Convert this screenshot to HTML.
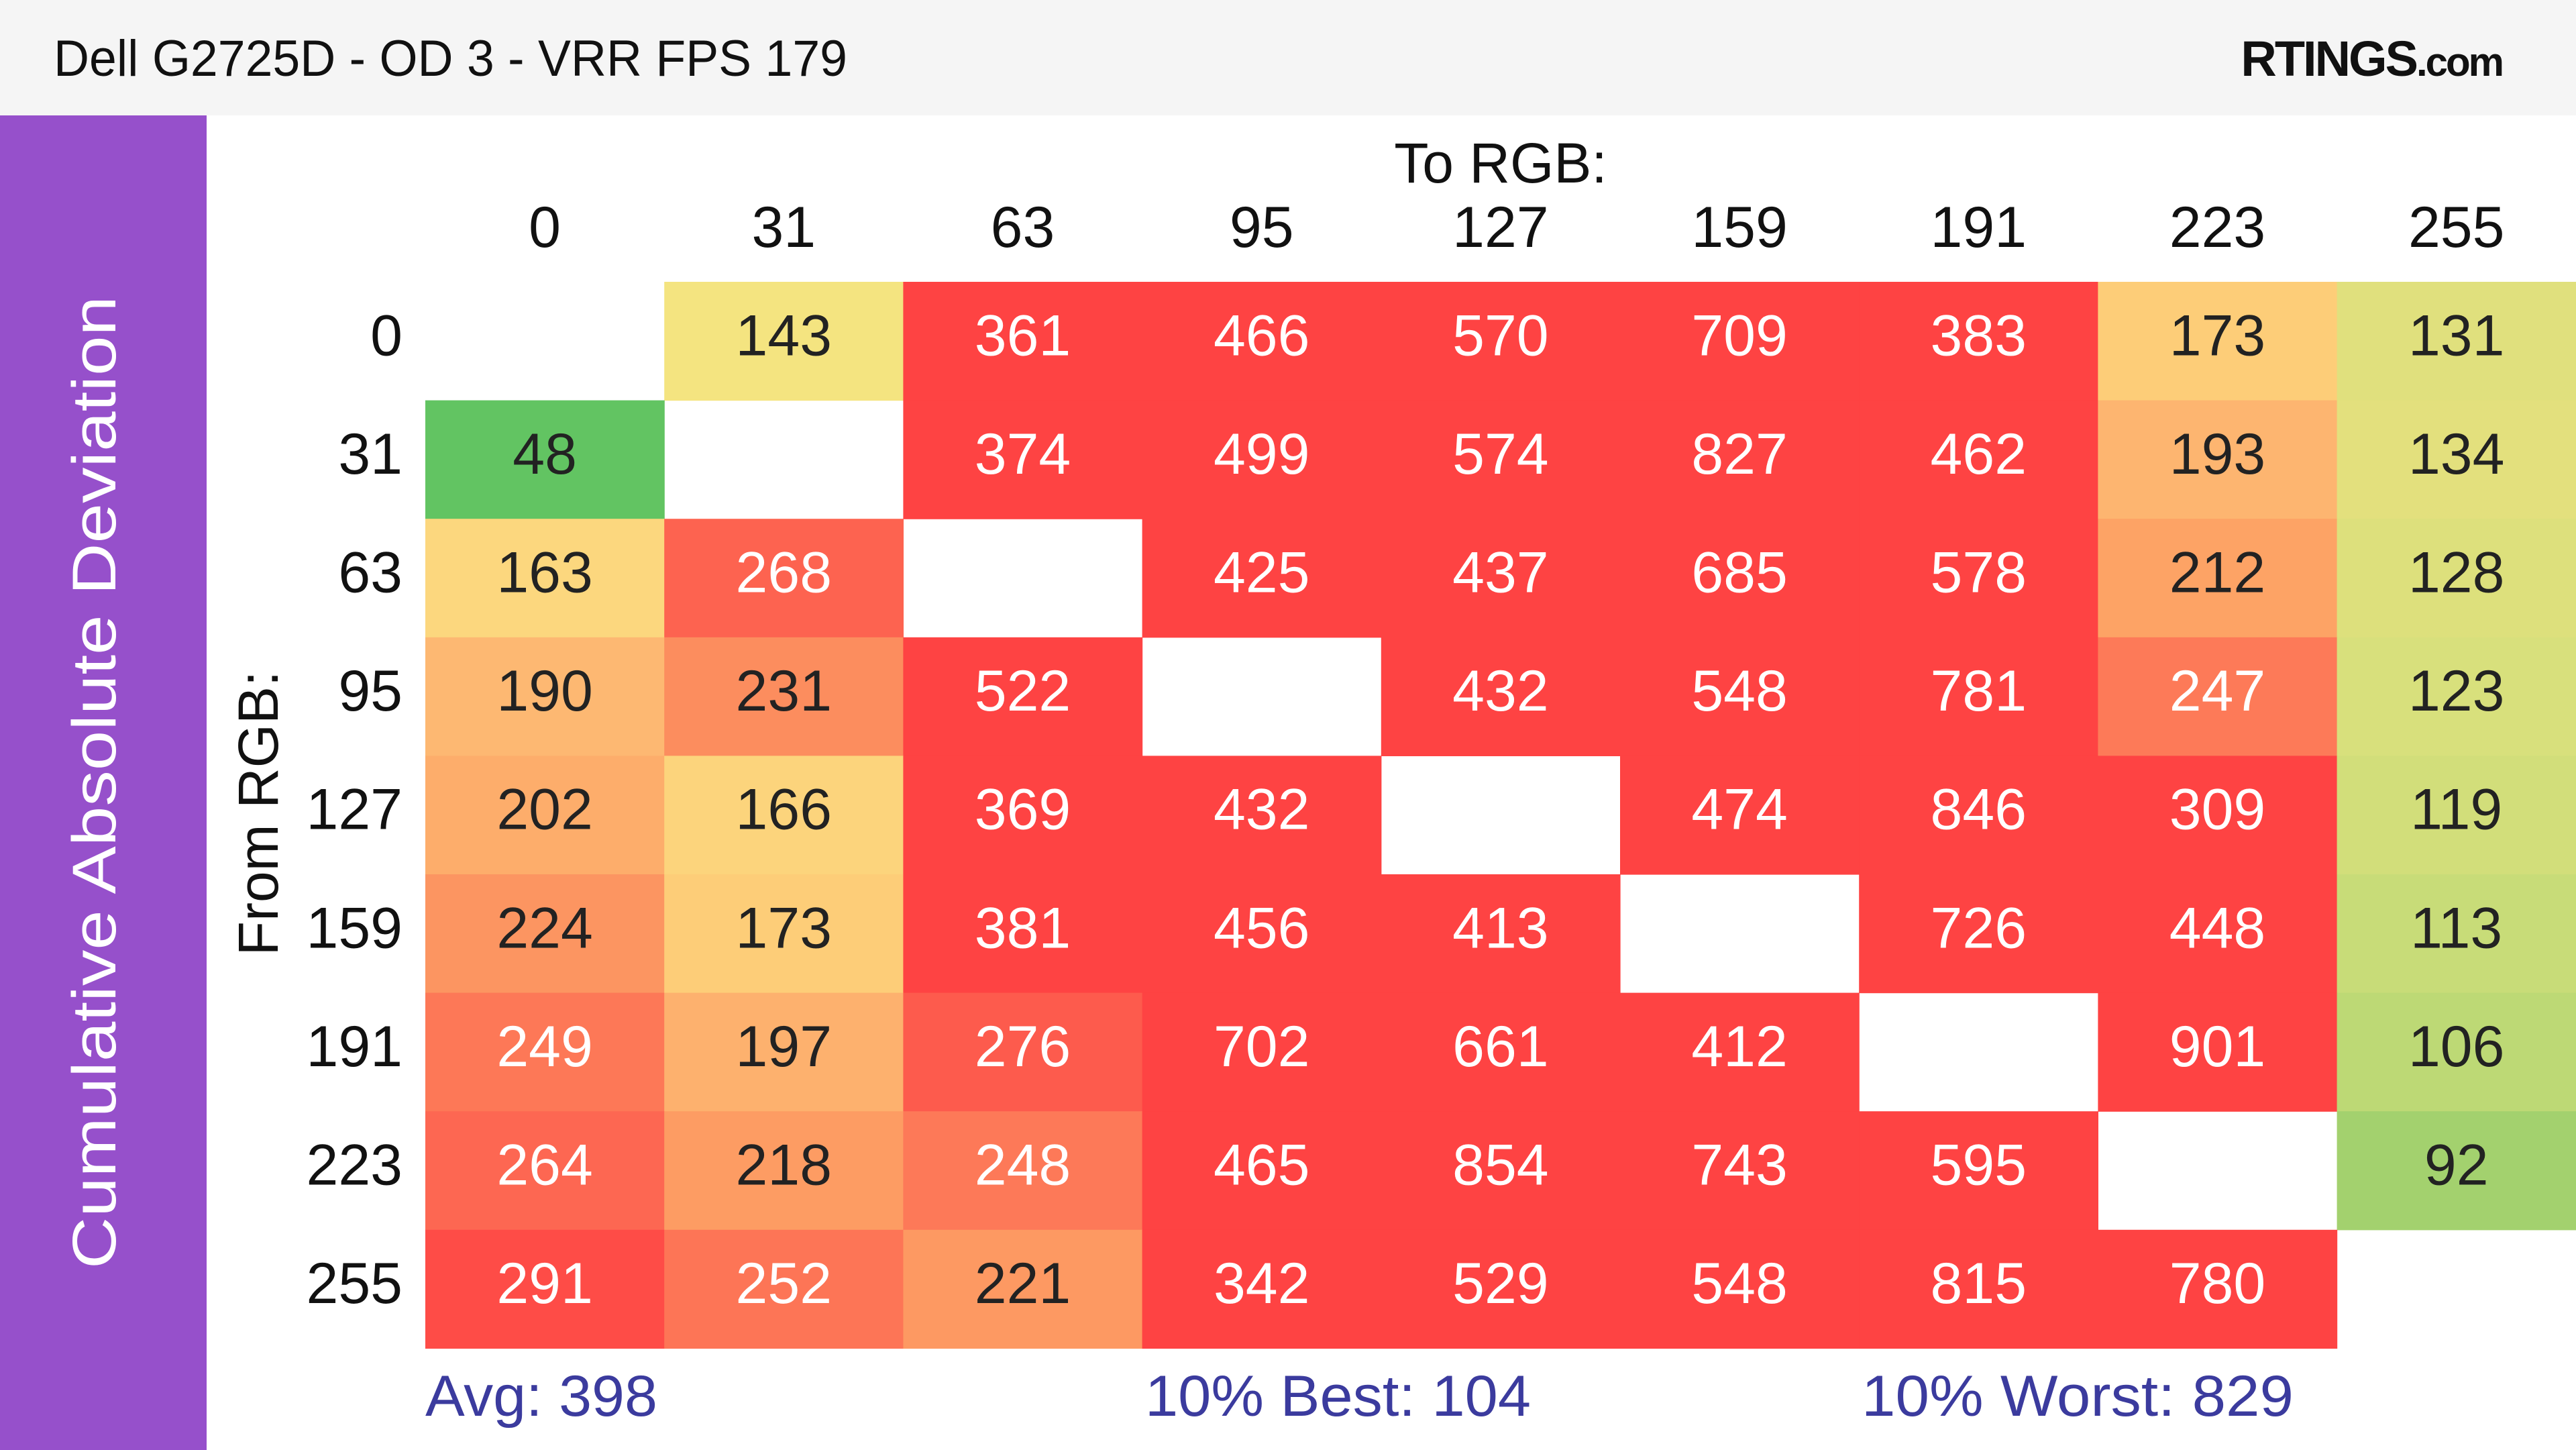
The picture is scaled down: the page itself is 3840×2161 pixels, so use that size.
<!DOCTYPE html>
<html><head><meta charset="utf-8"><style>
html,body{margin:0;padding:0;width:3840px;height:2161px;overflow:hidden;background:#fff;font-family:"Liberation Sans",sans-serif;}
</style></head><body>
<svg id="chart" xmlns="http://www.w3.org/2000/svg" width="3840" height="2161" viewBox="0 0 3840 2161" font-family="Liberation Sans, sans-serif">
<rect x="0" y="0" width="3840" height="172" fill="#f5f5f5"/>
<text x="80" y="113" font-size="76" fill="#111" textLength="1183" lengthAdjust="spacingAndGlyphs">Dell G2725D - OD 3 - VRR FPS 179</text>
<text x="3730" y="113" font-size="74" font-weight="bold" fill="#111" text-anchor="end" letter-spacing="-3">RTINGS<tspan font-size="60">.com</tspan></text>
<rect x="0" y="172" width="308" height="1989" fill="#9650cb"/>
<text transform="translate(172,1166) rotate(-90)" font-size="92" fill="#fff" text-anchor="middle" textLength="1450" lengthAdjust="spacingAndGlyphs">Cumulative Absolute Deviation</text>
<text x="2237" y="272" font-size="84" fill="#111" text-anchor="middle">To RGB:</text>
<text transform="translate(414,1212) rotate(-90)" font-size="84" fill="#111" text-anchor="middle">From RGB:</text>
<g id="cells"></g>
<g id="labels"></g>
<text x="634" y="2110" font-size="86" fill="#3b3b9e" textLength="346" lengthAdjust="spacingAndGlyphs">Avg: 398</text>
<text x="1707" y="2110" font-size="86" fill="#3b3b9e" textLength="575" lengthAdjust="spacingAndGlyphs">10% Best: 104</text>
<text x="2775" y="2110" font-size="86" fill="#3b3b9e" textLength="644" lengthAdjust="spacingAndGlyphs">10% Worst: 829</text>
</svg>
<script>
const levels = [0,31,63,95,127,159,191,223,255];
const values = [
 [null,143,361,466,570,709,383,173,131],
 [48,null,374,499,574,827,462,193,134],
 [163,268,null,425,437,685,578,212,128],
 [190,231,522,null,432,548,781,247,123],
 [202,166,369,432,null,474,846,309,119],
 [224,173,381,456,413,null,726,448,113],
 [249,197,276,702,661,412,null,901,106],
 [264,218,248,465,854,743,595,null,92],
 [291,252,221,342,529,548,815,780,null]
];
const stopVals = [48,92,106,123,134,143,163,173,190,212,231,247,268,300];
const stopCols = ["#62c462","#a3d16e","#bdd975","#d8e07c","#e3e07d","#f4e480","#fcd77e","#fdcd78","#fdb872","#fda365","#fc8d5e","#fd7a58","#fd6350","#fe4343"];
const X0=634, Y0=420, CW=356.2, RH=176.6;
function xPos(i){return X0+i*CW;}
function yPos(j){return Y0+j*RH;}
function hex(c){return [1,3,5].map(k=>parseInt(c.substr(k,2),16));}
function color(v){
  if(v<=stopVals[0])return stopCols[0];
  for(let k=1;k<stopVals.length;k++){
    if(v<=stopVals[k]){
      const t=(v-stopVals[k-1])/(stopVals[k]-stopVals[k-1]);
      const a=hex(stopCols[k-1]),b=hex(stopCols[k]);
      return "rgb("+a.map((x,i)=>Math.round(x+(b[i]-x)*t)).join(",")+")";
    }
  }
  return stopCols[stopCols.length-1];
}
const NS="http://www.w3.org/2000/svg";
const cells=document.getElementById('cells');
const labels=document.getElementById('labels');
levels.forEach((lv,i)=>{
  const t=document.createElementNS(NS,'text');
  
  
  t.setAttribute('x',xPos(i)+CW/2);t.setAttribute('y',368);
  t.setAttribute('font-size','86');t.setAttribute('text-anchor','middle');t.setAttribute('fill','#111');
  t.textContent=lv;labels.appendChild(t);
  const r=document.createElementNS(NS,'text');
  
  
  r.setAttribute('x',600);r.setAttribute('y',yPos(i)+RH/2+21);
  r.setAttribute('font-size','86');r.setAttribute('text-anchor','end');r.setAttribute('fill','#111');
  r.textContent=lv;labels.appendChild(r);
});
values.forEach((row,j)=>row.forEach((v,i)=>{
  if(v===null)return;
  const rc=document.createElementNS(NS,'rect');
  
  
  rc.setAttribute('x',xPos(i));rc.setAttribute('y',yPos(j));
  rc.setAttribute('width',CW+0.6);rc.setAttribute('height',RH+0.6);
  rc.setAttribute('fill',color(v));cells.appendChild(rc);
  const t=document.createElementNS(NS,'text');
  
  
  t.setAttribute('x',xPos(i)+CW/2);t.setAttribute('y',yPos(j)+RH/2+21);
  t.setAttribute('font-size','86');t.setAttribute('text-anchor','middle');
  t.setAttribute('fill',v>=245?'#fff':'#222');
  t.textContent=v;cells.appendChild(t);
}));
</script>
</body></html>
